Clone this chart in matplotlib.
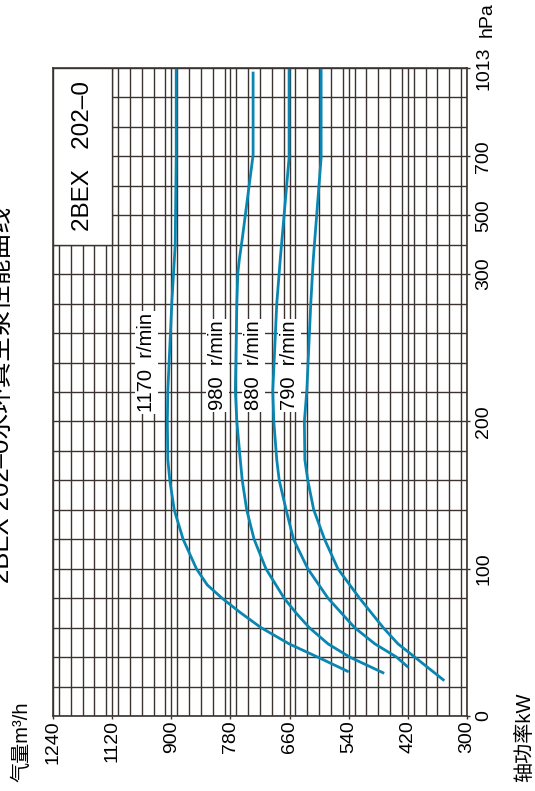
# 2BEX 202-0 水环真空泵性能曲线 (图整体逆时针旋转90°)
import numpy as np
import matplotlib
matplotlib.use("Agg")
import matplotlib.pyplot as plt
from matplotlib.patches import Rectangle
from matplotlib.ticker import FixedLocator, MultipleLocator

FONTS = ["Liberation Sans", "Noto Sans CJK SC", "DejaVu Sans"]
plt.rcParams["font.family"] = FONTS

# 压力 hPa / 气量 m3/h 读数
p_1170 = [30, 40, 49, 60, 70, 80, 89, 100, 120, 140, 160, 174, 200, 221, 280, 401, 705, 1013]
q_1170 = [540, 603, 661, 718, 759, 797, 827, 849, 876, 894, 903, 907, 908, 907, 899, 892, 890, 890]

p_980 = [29, 40, 49, 60, 70, 80, 100, 120, 140, 160, 174, 200, 221, 280, 304, 349, 420, 705, 1000]
q_980 = [468, 538, 582, 620, 647, 671, 708, 732, 747, 756, 760, 767, 770, 767, 765, 762, 756, 734, 734]

p_880 = [33, 40, 49, 60, 70, 80, 100, 120, 140, 160, 174, 200, 221, 280, 349, 695, 1013]
q_880 = [419, 443, 487, 528, 555, 582, 623, 652, 667, 681, 686, 692, 694, 686, 679, 661, 661]

p_790 = [24, 40, 49, 60, 70, 80, 100, 120, 140, 160, 174, 200, 221, 280, 349, 695, 1013]
q_790 = [346, 406, 440, 470, 494, 518, 562, 589, 611, 623, 629, 630, 625, 617, 612, 596, 596]

curves = [(p_1170, q_1170), (p_980, q_980), (p_880, q_880), (p_790, q_790)]
speed_labels = ["1170  r/min", "980  r/min", "880  r/min", "790  r/min"]
label_q = [951, 807, 734, 661]
label_p = [240, 238, 238, 238]

vol_ticks = [300, 420, 540, 660, 780, 900, 1020, 1140]
vol_labels = ["300", "420", "540", "660", "780", "900", "1120", "1240"]
p_ticks = [0, 100, 200, 300, 500, 700, 1013]
p_labels = ["0", "100", "200", "300", "500", "700", "1013"]

# 压力轴分段刻度
P_BRK = [0, 300, 500, 700, 1013]
G_BRK = [0, 15, 17, 19, 22]

def fwd(p):
    return np.interp(p, P_BRK, G_BRK)

def inv(g):
    return np.interp(g, G_BRK, P_BRK)

GRID = "#3a3330"
BLUE = "#0a86b2"

fig = plt.figure(figsize=(5.35, 7.91), dpi=100)
ax = fig.add_axes([53 / 535, 75 / 791, 414 / 535, 648 / 791])
ax.set_yscale("function", functions=(fwd, inv))
ax.set_xlim(1140, 300)
ax.set_ylim(0, 1013)

ax.xaxis.set_major_locator(FixedLocator(vol_ticks))
ax.set_xticklabels(vol_labels)
ax.xaxis.set_minor_locator(MultipleLocator(24))
ax.yaxis.set_major_locator(FixedLocator(p_ticks))
ax.set_yticklabels(p_labels)
ax.yaxis.set_minor_locator(FixedLocator(inv(np.arange(23))))
ax.yaxis.tick_right()

ax.set_axisbelow(True)
ax.grid(which="both", color=GRID, lw=1.0)
for s in ax.spines.values():
    s.set_color(GRID); s.set_linewidth(1.2)

ax.tick_params(axis="x", which="major", direction="out", length=2.5, width=1, color=GRID,
               labelsize=14, pad=0.5, labelrotation=90)
ax.tick_params(axis="y", which="major", direction="out", length=2.5, width=1, color=GRID,
               labelsize=14, pad=3.5, labelrotation=90)
ax.tick_params(which="minor", length=0)
for t in ax.get_yticklabels():
    t.set_va("center")
for t in ax.get_xticklabels():
    t.set_va("top")

# 型号框
ax.add_patch(Rectangle((1020, 400), 120, 613, fc="white", ec=GRID, lw=1.0, zorder=1.5))
ax.text(1080, 700, "2BEX   202–0", rotation=90, ha="center", va="center", fontsize=17.5, zorder=3)

for (p, q) in curves:
    ax.plot(q, p, color=BLUE, lw=2.0, zorder=2, solid_capstyle="butt", solid_joinstyle="round")

for lab, q, p in zip(speed_labels, label_q, label_p):
    ax.text(q, p, lab, rotation=90, ha="center", va="center", fontsize=14.5, zorder=3,
            bbox=dict(fc="white", ec="none", pad=1.5))

# 标题与轴名
fig.text(9 / 535, 1 - 395 / 791, "2BEX 202–0水环真空泵性能曲线", rotation=90,
         rotation_mode="anchor", ha="center", va="baseline", fontsize=18.5)
fig.text(22 / 535, 1 - 742 / 791, "气量m³/h", rotation=90, ha="center", va="center", fontsize=14.5)
fig.text(525 / 535, 1 - 737 / 791, "轴功率kW", rotation=90, ha="center", va="center", fontsize=14.5)
fig.text(487 / 535, 1 - 20 / 791, "hPa", rotation=90, ha="center", va="center", fontsize=14)

fig.savefig("out.png", dpi=100)
